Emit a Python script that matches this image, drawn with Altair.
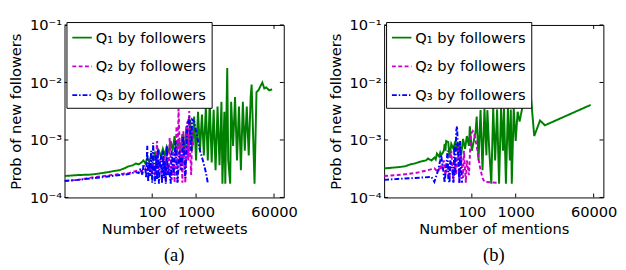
import altair as alt
import pandas as pd

SERIES = ["Q₁ by followers", "Q₂ by followers", "Q₃ by followers"]
COLORS = ["#008000", "#cc00cc", "#0000ff"]
DASHES = [[1, 0], [4, 2.5], [5, 2, 1.5, 2]]

X_TICKS = [100, 1000, 60000]
Y_TICKS = [1e-4, 1e-3, 1e-2, 1e-1]
Y_LABELS = ["10⁻⁴", "10⁻³", "10⁻²", "10⁻¹"]

# ---------- Panel (a): Number of retweets ----------
a_q1_x = [1, 2, 4, 6, 7, 10, 13, 18, 23, 29, 36, 42, 49, 57, 63, 70, 77, 86, 95, 105,
          116, 129, 142, 158, 175, 194, 215, 238, 264, 292, 324, 359, 398, 440, 487, 541, 599, 664, 736, 815,
          903, 1000, 1108, 1228, 1361, 1507, 1670, 1850, 2050, 2272, 2517, 2783, 3090, 3424, 3793, 3990, 4420, 4640, 5140, 5410,
          5995, 6310, 6990, 7740, 8580, 9510, 10530, 11670, 12915, 14330, 15880, 17590, 18500, 21540, 23870, 26450, 29300, 32470, 35900, 39850,
          46400, 54200]
a_q1_y = [2.36e-4, 2.45e-4, 2.5e-4, 2.6e-4, 2.65e-4, 2.76e-4, 2.87e-4, 2.98e-4, 3.2e-4, 3.48e-4,
          3.62e-4, 3.9e-4, 3.77e-4, 4.07e-4, 4.4e-4, 3.9e-4, 4.76e-4, 4.24e-4, 5.4e-4, 4.58e-4,
          6.0e-4, 4.95e-4, 6.5e-4, 5.15e-4, 7.0e-4, 5.4e-4, 7.6e-4, 6.0e-4, 9.6e-4, 6.5e-4,
          1.17e-3, 5.4e-4, 1.04e-3, 6.5e-4, 1.26e-3, 5.4e-4, 1.73e-3, 4.76e-4, 2.27e-3, 6.5e-4,
          2.55e-3, 4.4e-4, 3.1e-3, 6.5e-4, 2.76e-3, 5.4e-4, 3.8e-3, 4.4e-4, 4.6e-3, 4.07e-4,
          3.35e-3, 2.98e-4, 3.8e-3, 3.62e-4, 4.6e-3, 1.73e-4, 3.1e-3, 1.73e-4, 1.79e-2, 4.4e-4,
          1.73e-4, 4.6e-3, 7.9e-4, 5.6e-3, 4.4e-4, 3.8e-3, 2.98e-4, 4.6e-3, 6.5e-4, 3.8e-3,
          5.4e-4, 5.6e-3, 9.2e-3, 1.73e-4, 6.8e-3, 7.3e-3, 8.55e-3, 1.0e-2, 7.9e-3, 8.2e-3,
          7.3e-3, 7.6e-3]

a_q2_x = [1, 2, 5, 12, 29, 49, 60, 70, 77, 86, 95, 105, 116, 129, 135, 150, 167, 184, 204, 215,
          238, 250, 278, 307, 324, 359, 377, 398, 440, 464, 487, 513, 541, 569, 630, 664, 698, 736, 774, 815,
          858]
a_q2_y = [1.94e-4, 2.02e-4, 2.27e-4, 2.45e-4, 2.65e-4, 2.98e-4, 2.87e-4, 3.2e-4, 2.76e-4, 3.48e-4,
          2.55e-4, 3.9e-4, 2.36e-4, 9.6e-4, 2.98e-4, 4.4e-4, 2.18e-4, 5.4e-4, 1.87e-4, 6.5e-4,
          2.45e-4, 1.08e-3, 2.02e-4, 6.5e-4, 1.8e-4, 1.73e-3, 1.8e-4, 3.5e-3, 2.98e-4, 9.6e-4,
          1.8e-4, 1.42e-3, 3.62e-4, 1.8e-4, 2.1e-3, 4.4e-4, 3.2e-3, 6.5e-4, 2.45e-4, 1.42e-3,
          7.9e-4]

a_q3_x = [1, 2, 5, 12, 29, 42, 49, 54, 60, 63, 70, 73, 77, 81, 86, 90, 95, 100, 105, 111,
          116, 122, 129, 135, 142, 150, 158, 167, 175, 184, 194, 204, 215, 226, 238, 264, 278, 307, 340, 377,
          418, 464, 513, 569, 630, 698, 774, 815, 903, 1053, 1228, 1432, 1670, 1850]
a_q3_y = [1.94e-4, 2.02e-4, 2.18e-4, 2.36e-4, 2.55e-4, 2.76e-4, 2.65e-4, 3.2e-4, 2.45e-4, 3.77e-4,
          2.98e-4, 2.18e-4, 7.9e-4, 1.87e-4, 4.4e-4, 2.36e-4, 6.5e-4, 1.8e-4, 8.9e-4, 2.98e-4,
          1.73e-4, 5.4e-4, 2.02e-4, 7.0e-4, 1.73e-4, 4.07e-4, 5.4e-4, 1.73e-4, 6.5e-4, 2.18e-4,
          4.4e-4, 1.73e-4, 7.9e-4, 2.45e-4, 3.62e-4, 1.73e-4, 6.5e-4, 2.45e-4, 9.6e-4, 1.8e-4,
          6.5e-4, 2.98e-4, 1.17e-3, 2.18e-4, 1.73e-3, 2.55e-3, 6.5e-4, 2.27e-3, 2.1e-3, 1.17e-3,
          6.5e-4, 4.4e-4, 2.76e-4, 1.8e-4]

# ---------- Panel (b): Number of mentions ----------
b_q1_x = [1, 2, 3, 4, 5, 7, 9, 10, 12, 14, 15, 16, 18, 19, 20, 23, 24, 25, 26, 29,
          31, 34, 38, 42, 46, 52, 57, 63, 70, 77, 86, 90, 100, 111, 122, 129, 142, 158, 175, 194,
          215, 226, 250, 278, 307, 340, 377, 418, 464, 513, 541, 599, 664, 736, 774, 815, 903, 1000, 1108, 1228,
          1432, 1670, 1950, 2150, 2650, 3590, 4640, 51300]
b_q1_y = [3.2e-4, 3.35e-4, 3.48e-4, 3.77e-4, 3.9e-4, 4.24e-4, 4.4e-4, 4.76e-4, 4.4e-4, 4.95e-4,
          4.58e-4, 5.8e-4, 5.15e-4, 6.0e-4, 5.4e-4, 6.5e-4, 8.55e-4, 6.5e-4, 9.6e-4, 9.2e-4,
          4.95e-4, 8.55e-4, 7.0e-4, 9.6e-4, 6.5e-4, 8.9e-4, 5.4e-4, 1.04e-3, 7.0e-4, 1.17e-3,
          7.9e-4, 1.73e-3, 6.5e-4, 9.6e-4, 1.42e-3, 2.55e-3, 4.4e-4, 3.3e-3, 2.98e-4, 3.5e-3,
          5.4e-4, 3.3e-3, 6.5e-4, 1.73e-4, 3.6e-3, 4.4e-4, 3.4e-3, 1.73e-4, 3.6e-3, 6.5e-4,
          3.5e-3, 1.73e-4, 3.6e-3, 4.4e-4, 3.4e-3, 1.73e-4, 3.6e-3, 9.6e-4, 3.1e-3, 2.1e-3,
          3.8e-3, 4.6e-3, 6.8e-3, 7.6e-3, 1.17e-3, 2.18e-3, 1.8e-3, 4.07e-3]

b_q2_x = [1, 2, 5, 10, 14, 17, 19, 20, 23, 25, 28, 31, 34, 38, 42, 44, 49, 52, 57, 63,
          66, 73, 77, 86, 95, 105, 116, 129, 150, 175, 194, 377]
b_q2_y = [2.36e-4, 2.45e-4, 2.65e-4, 2.98e-4, 3.2e-4, 2.76e-4, 3.62e-4, 2.98e-4, 4.4e-4, 2.45e-4,
          3.9e-4, 2.18e-4, 6.5e-4, 1.87e-4, 4.4e-4, 2.45e-4, 7.9e-4, 1.8e-4, 5.4e-4, 2.18e-4,
          6.5e-4, 1.8e-4, 4.4e-4, 2.45e-4, 1.26e-3, 1.42e-3, 1.17e-3, 7.9e-4, 3.62e-4, 2.18e-4,
          1.87e-4, 1.8e-4]

b_q3_x = [1, 2, 5, 12, 14, 17, 19, 20, 23, 24, 26, 28, 29, 31, 32, 36, 38, 40, 42, 44,
          46, 49, 52, 54, 57, 60]
b_q3_y = [2.02e-4, 2.1e-4, 2.18e-4, 2.27e-4, 1.87e-4, 2.98e-4, 4.4e-4, 5.4e-4, 2.45e-4, 1.8e-4,
          3.62e-4, 6.5e-4, 2.18e-4, 1.8e-4, 4.4e-4, 2.98e-4, 1.8e-4, 7.9e-4, 2.45e-4, 1.42e-3,
          1.73e-3, 5.4e-4, 1.8e-4, 9.6e-4, 2.98e-4, 1.8e-4]

W, H = 225, 177
FONT = "DejaVu Sans"


def frame(series_xy):
    rows = []
    for name, xs, ys in series_xy:
        for i, (xv, yv) in enumerate(zip(xs, ys)):
            rows.append({"series": name, "x": xv, "y": yv, "i": i})
    return pd.DataFrame(rows)


y_label_expr = " : ".join(
    f"round(log(datum.value)/LN10) == {e} ? '{lab}'" for e, lab in zip([-4, -3, -2], Y_LABELS[:3])
) + f" : '{Y_LABELS[3]}'"


def panel(df, xtitle, caption):
    xs = alt.Scale(type="log", domain=[1, 100000])
    ys = alt.Scale(type="log", domain=[1e-4, 1e-1])
    x_axis = alt.Axis(values=X_TICKS, format="d", title=xtitle, labelFlush=False,
                      labelPadding=8, titlePadding=2)
    y_axis = alt.Axis(values=Y_TICKS, labelExpr=y_label_expr,
                      title="Prob of new followers", labelPadding=3, titlePadding=6)
    leg = alt.Legend(title=None, orient="none", legendX=2, legendY=-3,
                     fillColor="white", strokeColor="black", padding=5,
                     labelFont=FONT, labelFontSize=15, labelColor="black",
                     symbolType="stroke", symbolStrokeWidth=2, symbolSize=400,
                     rowPadding=10.5, labelOffset=3, cornerRadius=0, zindex=1)
    lines = alt.Chart(df).mark_line(strokeWidth=2, clip=True).encode(
        x=alt.X("x:Q", scale=xs, axis=x_axis),
        y=alt.Y("y:Q", scale=ys, axis=y_axis),
        color=alt.Color("series:N", scale=alt.Scale(domain=SERIES, range=COLORS), legend=leg),
        strokeDash=alt.StrokeDash("series:N", scale=alt.Scale(domain=SERIES, range=DASHES), legend=leg),
        order="i:Q",
    )
    xt = pd.DataFrame({"t": X_TICKS})
    yt = pd.DataFrame({"t": Y_TICKS})
    tick_b = alt.Chart(xt).mark_rule(color="black").encode(
        x=alt.X("t:Q", scale=xs, axis=x_axis), y=alt.value(H), y2=alt.value(H - 4))
    tick_t = alt.Chart(xt).mark_rule(color="black").encode(
        x=alt.X("t:Q", scale=xs, axis=x_axis), y=alt.value(0), y2=alt.value(4))
    tick_l = alt.Chart(yt).mark_rule(color="black").encode(
        y=alt.Y("t:Q", scale=ys, axis=y_axis), x=alt.value(0), x2=alt.value(4))
    tick_r = alt.Chart(yt).mark_rule(color="black").encode(
        y=alt.Y("t:Q", scale=ys, axis=y_axis), x=alt.value(W), x2=alt.value(W - 4))
    return alt.layer(lines, tick_b, tick_t, tick_l, tick_r).properties(
        width=W, height=H,
        title=alt.TitleParams(caption, orient="bottom", font="Liberation Serif", fontSize=19,
                              fontWeight="normal", color="black", anchor="middle", offset=10),
    )


df_a = frame([(SERIES[0], a_q1_x, a_q1_y), (SERIES[1], a_q2_x, a_q2_y), (SERIES[2], a_q3_x, a_q3_y)])
df_b = frame([(SERIES[0], b_q1_x, b_q1_y), (SERIES[1], b_q2_x, b_q2_y), (SERIES[2], b_q3_x, b_q3_y)])

pa = panel(df_a, "Number of retweets", "(a)")
pb = panel(df_b, "Number of mentions", "(b)")

chart = alt.hconcat(pa, pb, spacing=30).resolve_scale(
    color="independent", strokeDash="independent"
).resolve_legend(
    color="independent", strokeDash="independent"
).properties(
    padding={"left": 0, "top": 6, "right": 0, "bottom": 0},
    background="white",
).configure_view(
    stroke="black", strokeWidth=1
).configure_axis(
    domain=False, ticks=False, grid=False,
    labelFont=FONT, labelFontSize=15, labelColor="black",
    titleFont=FONT, titleFontSize=15, titleFontWeight="normal", titleColor="black",
)

chart.save("out.html", embed_options={"renderer": "svg", "actions": False})
